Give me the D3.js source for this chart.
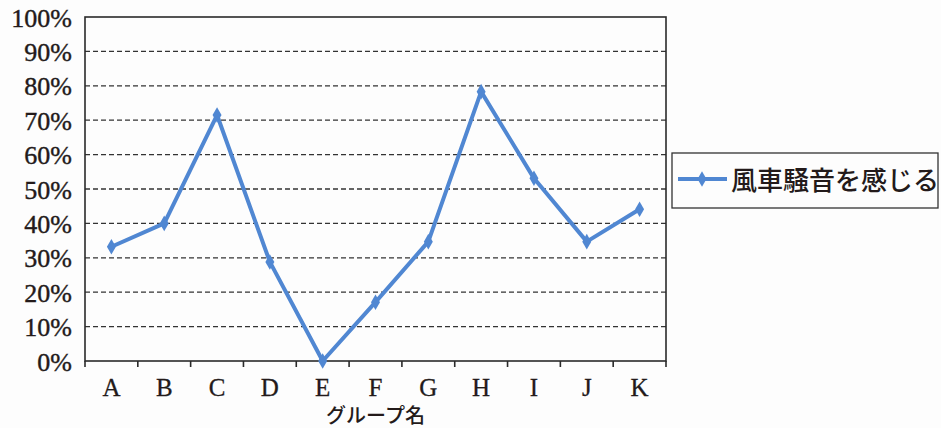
<!DOCTYPE html>
<html>
<head>
<meta charset="utf-8">
<script src="https://cdn.jsdelivr.net/npm/d3@7/dist/d3.min.js"></script>
<style>
  html, body { margin: 0; padding: 0; background: #fdfdfd; }
  svg { display: block; }
</style>
</head>
<body>
<svg id="chart" width="941" height="428"></svg>
<script>
// Share of respondents who notice wind-turbine noise, by group
const categories = ["A", "B", "C", "D", "E", "F", "G", "H", "I", "J", "K"];
const values = [33.2, 40.0, 71.5, 28.8, 0.0, 17.1, 34.7, 78.3, 53.1, 34.7, 44.1];
const yTicks = [0, 10, 20, 30, 40, 50, 60, 70, 80, 90, 100];
const seriesName = "風車騒音を感じる";
const xTitle = "グループ名";

const svg = d3.select("#chart");
const plot = { left: 85, right: 666, top: 17, bottom: 361 };
const lineColor = "#5087d2";
const inkColor = "#231a1a";
const serif = "'Liberation Serif', 'Times New Roman', serif";
const gothic = "'Noto Sans CJK JP', 'Noto Sans', sans-serif";

const x = d3.scaleBand().domain(categories).range([plot.left, plot.right]).padding(0);
const y = d3.scaleLinear().domain([0, 100]).range([plot.bottom, plot.top]);

// dashed horizontal gridlines
svg.append("g")
  .selectAll("line")
  .data(yTicks.filter(t => t > 0 && t < 100))
  .join("line")
  .attr("x1", plot.left).attr("x2", plot.right)
  .attr("y1", d => y(d)).attr("y2", d => y(d))
  .attr("stroke", "#333")
  .attr("stroke-width", 1.3)
  .attr("stroke-dasharray", "5,3");

// plot frame
svg.append("rect")
  .attr("x", plot.left).attr("y", plot.top)
  .attr("width", plot.right - plot.left).attr("height", plot.bottom - plot.top)
  .attr("fill", "none").attr("stroke", "#2a2a2a").attr("stroke-width", 1.6);

// y axis labels
const yAxis = d3.axisLeft(y).tickValues(yTicks).tickSize(0).tickPadding(13)
  .tickFormat(d => d + "%");
const gy = svg.append("g")
  .attr("transform", `translate(${plot.left},0)`)
  .call(yAxis);
gy.attr("font-family", serif).attr("font-size", 26);
gy.select(".domain").remove();
gy.selectAll("text")
  .style("font-family", serif)
  .style("font-size", "26px")
  .attr("fill", inkColor)
  .attr("stroke", inkColor).attr("stroke-width", 0.4)
  .attr("dy", "0.35em");

// x axis: ticks between categories, labels centred under each
const gx = svg.append("g").attr("transform", `translate(0,${plot.bottom})`);
const boundaries = categories.map(c => x(c)).concat([plot.right]);
gx.selectAll("line.tick")
  .data(boundaries)
  .join("line")
  .attr("class", "tick")
  .attr("x1", d => d).attr("x2", d => d)
  .attr("y1", 0).attr("y2", 6)
  .attr("stroke", "#2a2a2a").attr("stroke-width", 1.6);
gx.selectAll("text")
  .data(categories)
  .join("text")
  .attr("x", d => x(d) + x.bandwidth() / 2)
  .attr("y", 35)
  .attr("text-anchor", "middle")
  .style("font-family", serif)
  .style("font-size", "25px")
  .attr("fill", inkColor)
  .attr("stroke", inkColor).attr("stroke-width", 0.3)
  .text(d => d);

// x axis title
svg.append("text")
  .attr("x", (plot.left + plot.right) / 2)
  .attr("y", 423)
  .attr("text-anchor", "middle")
  .style("font-family", gothic)
  .style("font-weight", 500).style("font-size", "20px")
  .attr("fill", inkColor)
  .text(xTitle);

// series line
const pts = categories.map((c, i) => [x(c) + x.bandwidth() / 2, y(values[i])]);
svg.append("path")
  .datum(pts)
  .attr("d", d3.line())
  .attr("fill", "none")
  .attr("stroke", lineColor)
  .attr("stroke-width", 4)
  .attr("stroke-linejoin", "round");

const diamond = d3.symbol().type(d3.symbolDiamond).size(70);
svg.append("g")
  .selectAll("path")
  .data(pts)
  .join("path")
  .attr("transform", d => `translate(${d[0]},${d[1]})`)
  .attr("d", diamond)
  .attr("fill", lineColor);

// legend
const lg = svg.append("g");
lg.append("rect")
  .attr("x", 672).attr("y", 153).attr("width", 266).attr("height", 55)
  .attr("fill", "#fdfdfd").attr("stroke", "#333").attr("stroke-width", 1.3);
lg.append("line")
  .attr("x1", 678).attr("x2", 727).attr("y1", 179).attr("y2", 179)
  .attr("stroke", lineColor).attr("stroke-width", 4);
lg.append("path")
  .attr("transform", "translate(702,179)")
  .attr("d", diamond)
  .attr("fill", lineColor);
lg.append("text")
  .attr("x", 731).attr("y", 190)
  .style("font-family", gothic)
  .style("font-weight", 500).style("font-size", "26px")
  .attr("fill", inkColor)
  .text(seriesName);
</script>
</body>
</html>
